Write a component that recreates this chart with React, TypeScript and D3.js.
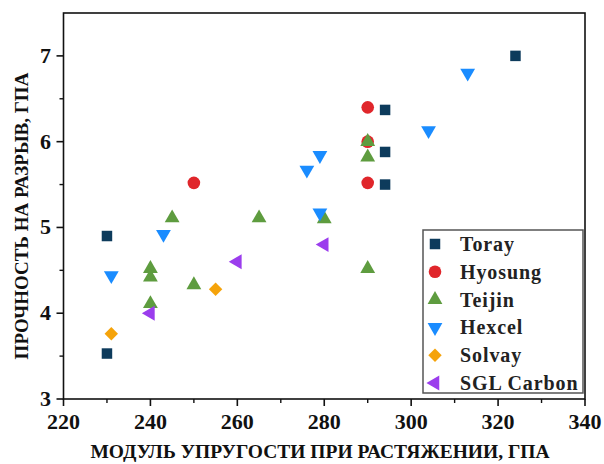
import React from 'react';
import * as d3 from 'd3';

// manufacturers, in drawing order
const series = ['Toray', 'Hyosung', 'Teijin', 'Hexcel', 'Solvay', 'SGL Carbon'];

const toray = [[230, 4.9], [230, 3.53], [294, 6.37], [294, 5.88], [294, 5.5], [324, 7.0]];
const hyosung = [[290, 6.4], [290, 6.0], [290, 5.52], [250, 5.52]];
const teijin = [
  [290, 6.0], [290, 5.82], [245, 5.11], [265, 5.11], [280, 5.1],
  [240, 4.52], [240, 4.42], [240, 4.11], [250, 4.33], [290, 4.52],
];
const hexcel = [[313, 6.8], [304, 6.13], [279, 5.84], [276, 5.67], [279, 5.17], [243, 4.92], [231, 4.44]];
const solvay = [[231, 3.76], [255, 4.28]];
const sgl = [[280, 4.8], [260, 4.6], [240, 4.0]];

const xTicks = [220, 240, 260, 280, 300, 320, 340];
const xMinor = [230, 250, 270, 290, 310, 330];
const yTicks = [3, 4, 5, 6, 7];
const yMinor = [3.5, 4.5, 5.5, 6.5];

const values = [toray, hyosung, teijin, hexcel, solvay, sgl];
const colors = ['#0d3b5c', '#e0262b', '#5e9c3f', '#1a8cff', '#f5a30a', '#9b3ded'];

// symbol, area, rotation for each series
const shapes: [d3.SymbolType, number, number][] = [
  [d3.symbolSquare, 110, 0],
  [d3.symbolCircle, 125, 0],
  [d3.symbolTriangle, 95, 0],
  [d3.symbolTriangle, 95, 180],
  [d3.symbolSquare, 90, 45],
  [d3.symbolTriangle, 95, -90],
];

const font = 'Liberation Serif';

export default function App() {
  const left = 63.5, right = 585, top = 13, bottom = 399;
  const x = d3.scaleLinear().domain([220, 340]).range([left, right]);
  const y = d3.scaleLinear().domain([3, 7.5]).range([bottom, top]);
  const sym = (i: number) => d3.symbol(shapes[i][0], shapes[i][1])() as string;

  const legX = 423, legY = 230, legW = 160, legH = 163, rowH = 27.8;

  return (
    <svg width={604} height={464} style={{ position: 'absolute', left: 0, top: 0, background: '#fff', fontFamily: font, fontWeight: 'bold' }}>
      <rect x={left} y={top} width={right - left} height={bottom - top} fill="none" stroke="#111" strokeWidth={1.6} />

      {/* x axis ticks */}
      {xTicks.map(t => (
        <g key={'x' + t}>
          <line x1={x(t)} x2={x(t)} y1={bottom} y2={bottom + 7} stroke="#111" strokeWidth={1.6} />
          <text x={x(t)} y={429} fontSize={22} textAnchor="middle" fill="#111">{t}</text>
        </g>
      ))}
      {xMinor.map(t => (
        <line key={'xm' + t} x1={x(t)} x2={x(t)} y1={bottom} y2={bottom + 4} stroke="#111" strokeWidth={1.4} />
      ))}

      {/* y axis ticks */}
      {yTicks.map(t => (
        <g key={'y' + t}>
          <line x1={left - 7} x2={left} y1={y(t)} y2={y(t)} stroke="#111" strokeWidth={1.6} />
          <text x={51} y={y(t) + 7} fontSize={22} textAnchor="end" fill="#111">{t}</text>
        </g>
      ))}
      {yMinor.map(t => (
        <line key={'ym' + t} x1={left - 4} x2={left} y1={y(t)} y2={y(t)} stroke="#111" strokeWidth={1.4} />
      ))}

      <text x={320} y={458} fontSize={19.5} textAnchor="middle" fill="#111">
        МОДУЛЬ УПРУГОСТИ ПРИ РАСТЯЖЕНИИ, ГПА
      </text>
      <text transform={`translate(28, 216) rotate(-90)`} fontSize={19} textAnchor="middle" fill="#111">
        ПРОЧНОСТЬ НА РАЗРЫВ, ГПА
      </text>

      {/* points */}
      {values.map((pts, i) => (
        <g key={series[i]} fill={colors[i]}>
          {pts.map((p, j) => (
            <path key={j} d={sym(i)} transform={`translate(${x(p[0])},${y(p[1])}) rotate(${shapes[i][2]})`} />
          ))}
        </g>
      ))}

      {/* legend */}
      <rect x={legX} y={legY} width={legW} height={legH} fill="#fff" stroke="#555" strokeWidth={1.5} />
      {series.map((s, i) => (
        <g key={'l' + s} transform={`translate(${legX}, ${legY + 14 + i * rowH})`}>
          <path d={sym(i)} fill={colors[i]} transform={`translate(12,0) rotate(${shapes[i][2]})`} />
          <text x={37} y={7} fontSize={20} fill="#222" letterSpacing={0.9}>{s}</text>
        </g>
      ))}
    </svg>
  );
}
